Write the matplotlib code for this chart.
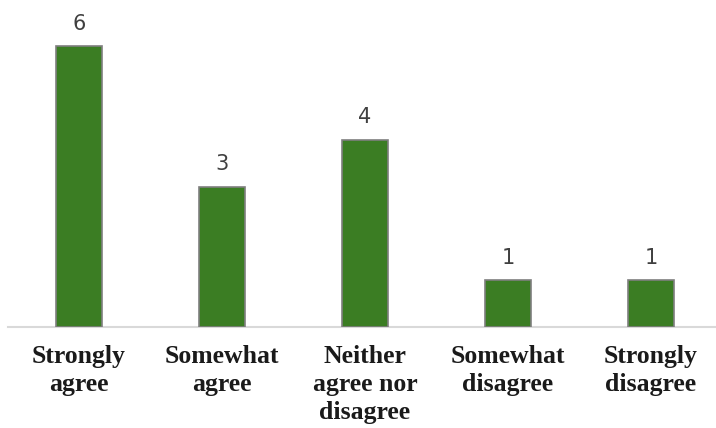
import matplotlib
matplotlib.use("Agg")
import matplotlib.pyplot as plt

categories = ["Strongly\nagree", "Somewhat\nagree", "Neither\nagree nor\ndisagree", "Somewhat\ndisagree", "Strongly\ndisagree"]
values = [6, 3, 4, 1, 1]

W, H = 716, 428
fig = plt.figure(figsize=(W/100, H/100), dpi=100)
left_px, right_px, top_px, base_px = 7.5, 716, 0, 327
ax = fig.add_axes([left_px/W, 1 - base_px/H, (right_px-left_px)/W, (base_px-top_px)/H])

x = list(range(len(values)))
bars = ax.bar(x, values, width=0.32, color="#3B7D23", edgecolor="#7F7F7F", linewidth=1.2, zorder=3)
ax.set_xlim(-0.5, -0.5 + (right_px-left_px)/143)
ax.set_ylim(0, base_px/46.8)

for xi, v in zip(x, values):
    ax.annotate(str(v), (xi, v), xytext=(0, 9), textcoords="offset points",
                ha="center", va="bottom", fontsize=15, color="#404040", family="DejaVu Sans")

for s in ["top", "right", "left"]:
    ax.spines[s].set_visible(False)
ax.spines["bottom"].set_color("#D9D9D9")
ax.spines["bottom"].set_linewidth(1.5)
ax.set_yticks([])
ax.set_xticks(x)
ax.set_xticklabels(categories, fontsize=18.5, fontweight="bold", family="Liberation Serif",
                   color="#1a1a1a", linespacing=1.28)
ax.tick_params(axis="x", length=0, pad=13)

fig.savefig("out.png", dpi=100)
